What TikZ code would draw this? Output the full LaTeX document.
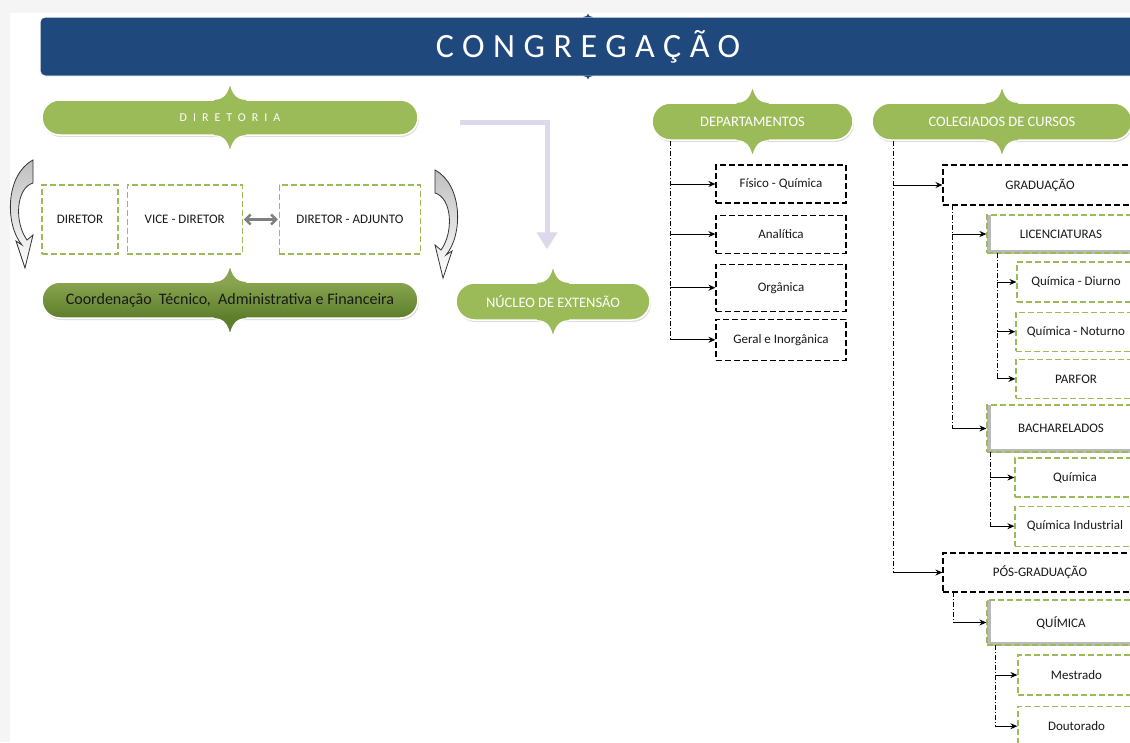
\documentclass[tikz,border=0pt]{standalone}
\usepackage{fontspec}
\setmainfont{Carlito}
\usepackage{tikz}
\usetikzlibrary{positioning, shapes.misc, arrows.meta, shadows}
\definecolor{navy}{RGB}{31,73,125}
\definecolor{leaf}{RGB}{155,187,89}
\definecolor{leafdark}{RGB}{94,126,44}
\definecolor{lilac}{RGB}{221,216,235}
\tikzstyle{arrow} = [line width=1pt,-{Stealth[length=7pt,width=6pt]}]
% pointed tip above (#3=1) or below (#3=-1) a pill
\newcommand{\peak}[4][]{%
  \begin{scope}[shift={(#2)}, yscale=#3, #1]
    \fill[#4] (-16,3) -- (-16,0) .. controls (-6,0) and (-2,-7) .. (0,-17) .. controls (2,-7) and (6,0) .. (16,0) -- (16,3) -- cycle;
    \draw[white, line width=1.2pt] (-16,0) .. controls (-6,0) and (-2,-7) .. (0,-17) .. controls (2,-7) and (6,0) .. (16,0);
  \end{scope}}

\begin{document}
\begin{tikzpicture}[
        x=1pt, y=-1pt,
        every node/.style={font=\fontsize{13}{15}\selectfont},
        pill/.style={rounded rectangle, fill=leaf, draw=white, line width=1.5pt, text=white, minimum height=37pt, inner sep=0pt,
                     drop shadow={opacity=0.25, shadow xshift=1pt, shadow yshift=-2pt}, font=\fontsize{14.5}{16}\selectfont},
        gbox/.style={rectangle, draw=leaf, dash pattern=on 6pt off 3pt, line width=1.2pt, inner sep=0pt, text=black!90},
        kbox/.style={rectangle, draw=black, dash pattern=on 6pt off 3pt, line width=1.1pt, inner sep=0pt, text=black!90},
        group/.style={gbox, path picture={\draw[gray!55, solid, line width=7pt] (path picture bounding box.north west) -- (path picture bounding box.south west) -- (path picture bounding box.south east);}},
        trunk/.style={line width=1pt, dash pattern=on 5pt off 2pt on 1pt off 2pt}
    ]

    \useasboundingbox (0,0) rectangle (1130,742);
    \clip (0,0) rectangle (1130,742);
    \fill[gray!8] (0,0) rectangle (1130,742);
    \fill[white] (10,13) rectangle (1140,750);

    % Nodes
    \node[rectangle, rounded corners=5pt, fill=navy, draw=white, line width=1pt, minimum width=1096pt, minimum height=59pt, text=white,
          font=\fontsize{34}{36}\selectfont\addfontfeatures{LetterSpace=25}] (congregacao) at (588,46.5) {CONGREGAÇÃO};
    \peak[scale=0.3]{congregacao.north}{1}{navy}
    \peak[scale=0.3]{congregacao.south}{-1}{navy}

    \node[pill, minimum width=376pt, minimum height=35pt, font=\fontsize{12}{14}\selectfont\addfontfeatures{LetterSpace=50}] (diretoria) at (230,117.5) {DIRETORIA};
    \peak{diretoria.north}{1}{leaf}
    \peak{diretoria.south}{-1}{leaf}

    \node[gbox, minimum width=76pt, minimum height=69pt] (diretor) at (80,219.5) {DIRETOR};
    \node[gbox, minimum width=115pt, minimum height=69pt, right=8pt of diretor] (vice) {VICE - DIRETOR};
    \node[gbox, minimum width=141pt, minimum height=69pt, right=36pt of vice] (adjunto) {DIRETOR - ADJUNTO};

    \node[pill, minimum width=376pt, minimum height=36pt, top color=leaf!88!black, bottom color=leafdark, text=black!90,
          font=\fontsize{16}{18}\selectfont] (coord) at (230,300) {Coordenação\ \ Técnico,\ \ Administrativa e Financeira};
    \peak{coord.north}{1}{leaf!88!black}
    \peak{coord.south}{-1}{leafdark}

    \node[pill, minimum width=194pt] (nucleo) at (553,301.5) {NÚCLEO DE EXTENSÃO};
    \peak{nucleo.north}{1}{leaf}
    \peak{nucleo.south}{-1}{leaf}

    \node[pill, minimum width=201pt] (dep) at (752.5,121.5) {DEPARTAMENTOS};
    \peak{dep.north}{1}{leaf}
    \peak{dep.south}{-1}{leaf}

    \node[pill, minimum width=260pt] (col) at (1002,121.5) {COLEGIADOS DE CURSOS};
    \peak{col.north}{1}{leaf}
    \peak{col.south}{-1}{leaf}

    \node[kbox, minimum width=130pt, minimum height=38pt] (fisico) at (781,184) {Físico - Química};
    \node[kbox, minimum width=130pt, minimum height=38pt, below=11pt of fisico] (analitica) {Analítica};
    \node[kbox, minimum width=130pt, minimum height=47pt, below=10pt of analitica] (organica) {Orgânica};
    \node[kbox, minimum width=130pt, minimum height=41pt, below=7pt of organica] (geral) {Geral e Inorgânica};

    \node[kbox, minimum width=194pt, minimum height=40pt] (grad) at (1040,185) {GRADUAÇÃO};
    \node[group, minimum width=148pt, minimum height=38pt] (lic) at (1061,234) {LICENCIATURAS};
    \node[gbox, minimum width=118pt, minimum height=40pt] (diurno) at (1076,282) {Química - Diurno};
    \node[gbox, minimum width=120pt, minimum height=39pt, below=9pt of diurno] (noturno) {Química - Noturno};
    \node[gbox, minimum width=120pt, minimum height=39pt, below=7pt of noturno] (parfor) {PARFOR};
    \node[group, minimum width=148pt, minimum height=47pt] (bach) at (1061,428.5) {BACHARELADOS};
    \node[gbox, minimum width=120pt, minimum height=39pt] (bquimica) at (1075,477.5) {Química};
    \node[gbox, minimum width=120pt, minimum height=40pt, below=8pt of bquimica] (industrial) {Química Industrial};
    \node[kbox, minimum width=194pt, minimum height=39pt] (pos) at (1040,572.5) {PÓS-GRADUAÇÃO};
    \node[group, minimum width=148pt, minimum height=45pt] (pquimica) at (1061,622.5) {QUÍMICA};
    \node[gbox, minimum width=117pt, minimum height=40pt] (mestrado) at (1076.5,675) {Mestrado};
    \node[gbox, minimum width=117pt, minimum height=40pt, below=10pt of mestrado] (doutorado) {Doutorado};

    % Curved arrows
    \draw[black!80, line width=0.8pt, top color=gray!50, bottom color=white] (33,160) .. controls (5,175) and (5,225) .. (22,245) -- (16,241) -- (25,268) -- (33,235) -- (27,240) .. controls (14,222) and (16,188) .. (33,183) -- cycle;
    \begin{scope}[shift={(468,10)}, xscale=-1]
        \draw[black!80, line width=0.8pt, top color=gray!50, bottom color=white] (33,160) .. controls (5,175) and (5,225) .. (22,245) -- (16,241) -- (25,268) -- (33,235) -- (27,240) .. controls (14,222) and (16,188) .. (33,183) -- cycle;
    \end{scope}

    % Arrows
    \draw[gray, line width=2.5pt, {Straight Barb[length=5pt,width=10pt]}-{Straight Barb[length=5pt,width=10pt]}, shorten <=1pt, shorten >=1pt] (vice) -- (adjunto);

    \coordinate (lilacstart) at (460,122);
    \draw[lilac, line width=5pt, -{Triangle[length=17pt,width=20pt]}] (lilacstart) -| ([xshift=-6pt,yshift=33pt]nucleo.north);

    \coordinate (dt) at (670,141);
    \draw[trunk] (dt) -- (dt |- geral.west);
    \draw[arrow] (dt |- fisico.west) -- (fisico.west);
    \draw[arrow] (dt |- analitica.west) -- (analitica.west);
    \draw[arrow] (dt |- organica.west) -- (organica.west);
    \draw[arrow] (dt |- geral.west) -- (geral.west);

    \coordinate (ct) at (893,141);
    \draw[trunk] (ct) -- (ct |- pos.west);
    \draw[arrow] (ct |- grad.west) -- (grad.west);
    \draw[arrow] (ct |- pos.west) -- (pos.west);

    \coordinate (gt) at (952,205);
    \draw[trunk] (gt) -- (gt |- bach.west);
    \draw[arrow] (gt |- lic.west) -- (lic.west);
    \draw[arrow] (gt |- bach.west) -- (bach.west);

    \coordinate (lt) at (997,253);
    \draw[trunk] (lt) -- (lt |- parfor.west);
    \draw[arrow] (lt |- diurno.west) -- (diurno.west);
    \draw[arrow] (lt |- noturno.west) -- (noturno.west);
    \draw[arrow] (lt |- parfor.west) -- (parfor.west);

    \coordinate (bt) at (990,452);
    \draw[trunk] (bt) -- (bt |- industrial.west);
    \draw[arrow] (bt |- bquimica.west) -- (bquimica.west);
    \draw[arrow] (bt |- industrial.west) -- (industrial.west);

    \coordinate (pt) at (953,592);
    \draw[trunk] (pt) -- (pt |- pquimica.west);
    \draw[arrow] (pt |- pquimica.west) -- (pquimica.west);

    \coordinate (qt) at (995,645);
    \draw[trunk] (qt) -- (qt |- doutorado.west);
    \draw[arrow] (qt |- mestrado.west) -- (mestrado.west);
    \draw[arrow] (qt |- doutorado.west) -- (doutorado.west);

\end{tikzpicture}
\end{document}
